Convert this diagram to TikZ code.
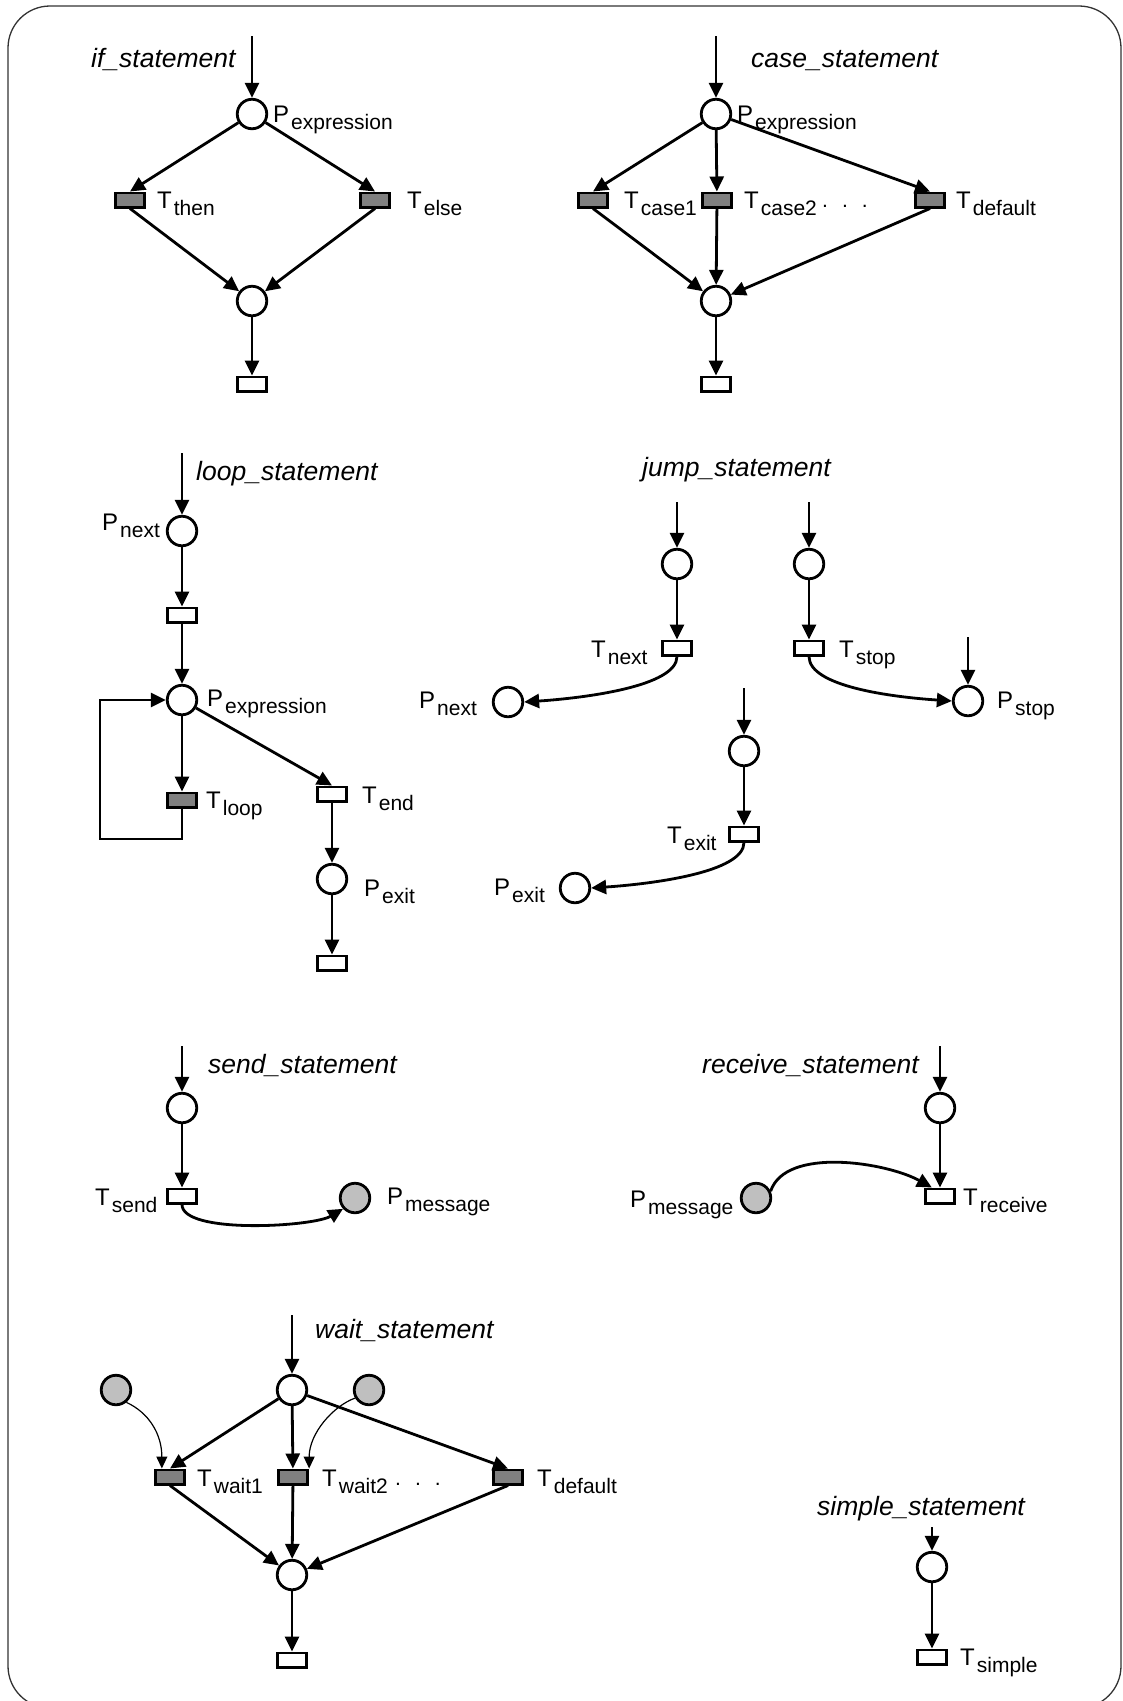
\documentclass[tikz,border=0pt]{standalone}
\usepackage{fontspec}
\setmainfont{Liberation Sans}
\usetikzlibrary{arrows.meta,calc}
\newcommand{\mainsz}{\fontsize{24}{28}\selectfont}
\newcommand{\subsz}{\fontsize{21}{24}\selectfont}
\newcommand{\stmtsz}{\fontsize{26.5}{30}\selectfont\itshape}
\newcommand{\lab}[2]{#1\kern2pt\raisebox{-7pt}{\subsz #2}}
\newcommand{\threedots}{{\subsz .\kern14pt.\kern14pt.}}
\begin{document}
\begin{tikzpicture}[x=1pt,y=1pt,
  place/.style={circle, draw, line width=2.8pt, minimum size=29.5pt, inner sep=0pt, fill=white},
  gplace/.style={place, fill=black!25},
  trans/.style={rectangle, draw, line width=2.8pt, minimum width=29.5pt, minimum height=14.2pt, inner sep=0pt, fill=white},
  gtrans/.style={trans, fill=black!50},
  arr/.style={line width=2.8pt, -{Triangle[length=15pt,width=14pt]}},
  thinarr/.style={line width=1.2pt, -{Triangle[length=12pt,width=11pt]}},
  lbl/.style={anchor=base west, inner sep=0pt, font=\mainsz},
  stmt/.style={anchor=base west, inner sep=0pt, font=\stmtsz},
  frame/.style={line width=1.3pt, draw=black!80, rounded corners=42pt}]
\useasboundingbox (0,0) rectangle (1123,-1701);
\clip (0,0) rectangle (1123,-1701);
\draw[frame] (8,-6) rectangle (1121,-1708);

% ---------- if_statement ----------
\node[stmt] (ifl) at (91,-67) {if\_statement};
\coordinate (ifin) at (252,-36);
\node[place] (P1) at (252,-114) {};
\node[gtrans] (Tthen) at (130,-200) {};
\node[gtrans] (Telse) at (375,-200) {};
\node[place] (M1) at (252,-301) {};
\node[trans] (O1) at (252,-384) {};
\node[lbl] (P1l) at (273,-122) {\lab{P}{expression}};
\node[lbl] (Tthenl) at (157,-208) {\lab{T}{then}};
\node[lbl] (Telsel) at (407,-208) {\lab{T}{else}};
\draw[arr] (ifin) -- (P1);
\draw[arr] (P1) -- (Tthen.north);
\draw[arr] (P1) -- (Telse.north);
\draw[arr] (Tthen.south) -- (M1);
\draw[arr] (Telse.south) -- (M1);
\draw[arr] (M1) -- (O1);

% ---------- case_statement ----------
\node[stmt] (casel) at (751,-67) {case\_statement};
\coordinate (casein) at (716,-36);
\node[place] (P2) at (716,-114) {};
\node[gtrans] (Tc1) at (593,-200) {};
\node[gtrans] (Tc2) at (717,-200) {};
\node[gtrans] (Tcd) at (930,-200) {};
\node[place] (M2) at (716,-301) {};
\node[trans] (O2) at (716,-384) {};
\node[lbl] (P2l) at (737,-122) {\lab{P}{expression}};
\node[lbl] (Tc1l) at (624,-208) {\lab{T}{case1}};
\node[lbl] (Tc2l) at (744,-208) {\lab{T}{case2}};
\node[lbl] (cdots) at (822,-207) {\threedots};
\node[lbl] (Tcdl) at (956,-208) {\lab{T}{default}};
\draw[arr] (casein) -- (P2);
\draw[arr] (P2) -- (Tc1.north);
\draw[arr] (P2) -- (Tc2);
\draw[arr] (P2) -- (Tcd.north);
\draw[arr] (Tc1.south) -- (M2);
\draw[arr] (Tc2) -- (M2);
\draw[arr] (Tcd.south) -- (M2);
\draw[arr] (M2) -- (O2);

% ---------- loop_statement ----------
\node[stmt] (loopl) at (196,-480) {loop\_statement};
\coordinate (loopin) at (182,-453);
\node[place] (Pn) at (182,-531) {};
\node[trans] (B1) at (182,-615) {};
\node[place] (Pe) at (182,-700) {};
\node[gtrans] (Tl) at (182,-800) {};
\node[trans] (Tend) at (332,-794) {};
\node[place] (Px) at (332,-879) {};
\node[trans] (O3) at (332,-963) {};
\coordinate (loopa) at (100,-839);
\node[lbl] (Pnl) at (102,-530) {\lab{P}{next}};
\node[lbl] (Pel) at (207,-706) {\lab{P}{expression}};
\node[lbl] (Tll) at (206,-808) {\lab{T}{loop}};
\node[lbl] (Tendl) at (362,-803) {\lab{T}{end}};
\node[lbl] (Pxl) at (364,-896) {\lab{P}{exit}};
\draw[arr] (loopin) -- (Pn);
\draw[arr] (Pn) -- (B1);
\draw[arr] (B1) -- (Pe);
\draw[arr] (Pe) -- (Tl);
\draw[arr] (Pe) -- (Tend.north);
\draw[arr] (Tend) -- (Px);
\draw[arr] (Px) -- (O3);
\draw[arr] (Tl.south) |- (loopa) |- (Pe.west);

% ---------- jump_statement ----------
\node[stmt] (jumpl) at (642,-476) {jump\_statement};
\coordinate (j1in) at (677,-502);
\node[place] (J1) at (677,-564) {};
\node[trans] (Tnext) at (677,-648) {};
\node[place] (PnJ) at (508,-702) {};
\coordinate (j2in) at (809,-502);
\node[place] (J2) at (809,-564) {};
\node[trans] (Tstop) at (809,-648) {};
\node[place] (Pstop) at (968,-701) {};
\coordinate (pstopin) at (968,-637);
\coordinate (j3in) at (744,-688);
\node[place] (J3) at (744,-751) {};
\node[trans] (Texit) at (744,-834) {};
\node[place] (PxJ) at (575,-888) {};
\node[lbl] (Tnextl) at (591,-657) {\lab{T}{next}};
\node[lbl] (PnJl) at (419,-708) {\lab{P}{next}};
\node[lbl] (Tstopl) at (839,-657) {\lab{T}{stop}};
\node[lbl] (Pstopl) at (997,-708) {\lab{P}{stop}};
\node[lbl] (Texitl) at (667,-843) {\lab{T}{exit}};
\node[lbl] (PxJl) at (494,-895) {\lab{P}{exit}};
\draw[arr] (j1in) -- (J1);
\draw[arr] (J1) -- (Tnext);
\draw[arr] (Tnext.south) .. controls +(0,-30) and +(60,4) .. (PnJ.east);
\draw[arr] (j2in) -- (J2);
\draw[arr] (J2) -- (Tstop);
\draw[arr] (Tstop.south) .. controls +(0,-30) and +(-60,4) .. (Pstop.west);
\draw[arr] (pstopin) -- (Pstop);
\draw[arr] (j3in) -- (J3);
\draw[arr] (J3) -- (Texit);
\draw[arr] (Texit.south) .. controls +(0,-30) and +(60,4) .. (PxJ.east);

% ---------- send_statement ----------
\node[stmt] (sendl) at (208,-1073) {send\_statement};
\coordinate (sendin) at (182,-1046);
\node[place] (Sc) at (182,-1108) {};
\node[trans] (Tsend) at (182,-1196) {};
\node[gplace] (Pm1) at (355,-1198) {};
\node[lbl] (Tsendl) at (95,-1205) {\lab{T}{send}};
\node[lbl] (Pm1l) at (387,-1204) {\lab{P}{message}};
\draw[arr] (sendin) -- (Sc);
\draw[arr] (Sc) -- (Tsend);
\draw[arr] (Tsend.south) .. controls +(0,-30) and +(-30,-18) .. (Pm1.222);

% ---------- receive_statement ----------
\node[stmt] (recvl) at (702,-1073) {receive\_statement};
\coordinate (recvin) at (940,-1046);
\node[place] (Rc) at (940,-1108) {};
\node[trans] (Trecv) at (940,-1196) {};
\node[gplace] (Pm2) at (756,-1198) {};
\coordinate (recvend) at ($(Trecv.north west)+(8,0)$);
\node[lbl] (Trecvl) at (963,-1205) {\lab{T}{receive}};
\node[lbl] (Pm2l) at (630,-1207) {\lab{P}{message}};
\draw[arr] (recvin) -- (Rc);
\draw[arr] (Rc) -- (Trecv);
\draw[arr] (Pm2.25) .. controls +(15,45) and +(-45,25) .. (recvend);

% ---------- wait_statement ----------
\node[stmt] (waitl) at (315,-1338) {wait\_statement};
\coordinate (waitin) at (292,-1315);
\node[place] (Wc) at (292,-1390) {};
\node[gplace] (G1) at (116,-1390) {};
\node[gplace] (G2) at (369,-1390) {};
\node[gtrans] (Tw1) at (170,-1477) {};
\node[gtrans] (Tw2) at (293,-1477) {};
\node[gtrans] (Twd) at (508,-1477) {};
\node[place] (Wb) at (292,-1575) {};
\node[trans] (O4) at (292,-1660) {};
\coordinate (tw1in) at ($(Tw1.north west)+(8,0)$);
\node[lbl] (Tw1l) at (197,-1486) {\lab{T}{wait1}};
\node[lbl] (Tw2l) at (322,-1486) {\lab{T}{wait2}};
\node[lbl] (wdots) at (395,-1485) {\threedots};
\node[lbl] (Twdl) at (537,-1486) {\lab{T}{default}};
\draw[arr] (waitin) -- (Wc);
\draw[arr] (Wc) -- (Tw1.north);
\draw[arr] (Wc) -- (Tw2);
\draw[arr] (Wc) -- (Twd.north);
\draw[arr] (Tw1.south) -- (Wb);
\draw[arr] (Tw2) -- (Wb);
\draw[arr] (Twd.south) -- (Wb);
\draw[arr] (Wb) -- (O4);
\draw[thinarr] (G1.-50) .. controls +(22,-10) and +(0,35) .. (tw1in);
\draw[thinarr] (G2.210) .. controls +(-22,-8) and +(0,35) .. (Tw2.north east);

% ---------- simple_statement ----------
\node[stmt] (simplel) at (817,-1515) {simple\_statement};
\coordinate (simplein) at (932,-1527);
\node[place] (Sm) at (932,-1567) {};
\node[trans] (Ts) at (932,-1657) {};
\node[lbl] (Tsl) at (960,-1665) {\lab{T}{simple}};
\draw[arr] (simplein) -- (Sm);
\draw[arr] (Sm) -- (Ts);
\end{tikzpicture}
\end{document}
